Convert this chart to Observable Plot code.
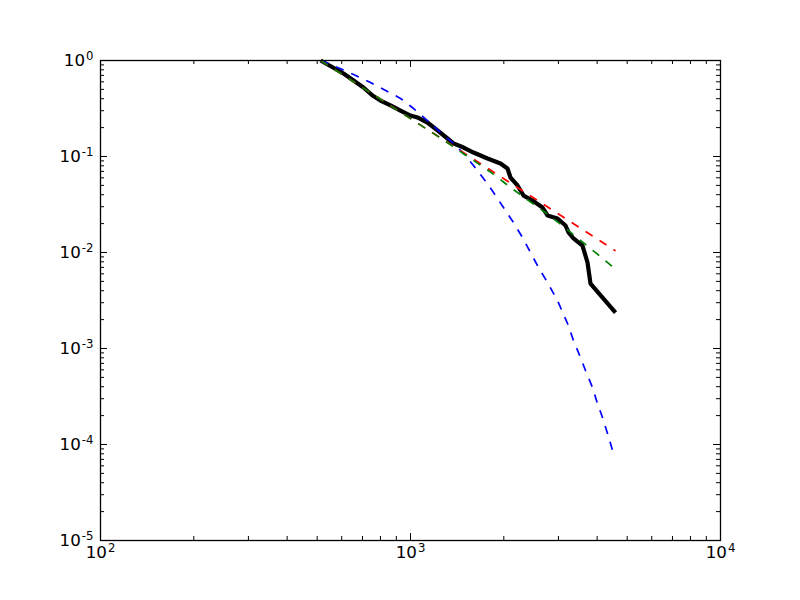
<!DOCTYPE html>
<html><head><meta charset="utf-8">
<script src="https://cdn.jsdelivr.net/npm/d3@7"></script>
<script src="https://cdn.jsdelivr.net/npm/@observablehq/plot@0.6"></script>
<style>body{margin:0;background:#fff;}</style>
</head><body><div id="chart"></div>
<script>
const xMajor = [100, 1000, 10000];
const xTickLabels = ["10^2", "10^3", "10^4"];
const xMinor = [200, 300, 400, 500, 600, 700, 800, 900, 2000, 3000, 4000, 5000, 6000, 7000, 8000, 9000];
const yMajor = [1e-5, 1e-4, 1e-3, 1e-2, 1e-1, 1];
const yTickLabels = ["10^-5", "10^-4", "10^-3", "10^-2", "10^-1", "10^0"];
const yMinor = [
  2e-5, 3e-5, 4e-5, 5e-5, 6e-5, 7e-5, 8e-5, 9e-5,
  2e-4, 3e-4, 4e-4, 5e-4, 6e-4, 7e-4, 8e-4, 9e-4,
  2e-3, 3e-3, 4e-3, 5e-3, 6e-3, 7e-3, 8e-3, 9e-3,
  2e-2, 3e-2, 4e-2, 5e-2, 6e-2, 7e-2, 8e-2, 9e-2,
  0.2, 0.3, 0.4, 0.5, 0.6, 0.7, 0.8, 0.9
];

// empirical CCDF (black)
const empX = [513, 608, 655, 705, 754, 800, 862, 928, 1000, 1053, 1134, 1222, 1316, 1376, 1483, 1597, 1772, 1951, 2055, 2102, 2214, 2315, 2475, 2666, 2766, 2980, 3162, 3234, 3356, 3587, 3724, 3807, 4585];
const empY = [1.0, 0.732, 0.619, 0.523, 0.432, 0.383, 0.340, 0.301, 0.267, 0.255, 0.226, 0.187, 0.154, 0.137, 0.124, 0.110, 0.0953, 0.0845, 0.075, 0.0604, 0.0499, 0.0392, 0.0348, 0.0294, 0.0243, 0.0226, 0.0191, 0.0162, 0.0140, 0.0118, 0.00787, 0.00475, 0.00237];

// exponential fit (blue)
const expX = [513, 582, 655, 743, 843, 929, 1023, 1134, 1249, 1376, 1483, 1597, 1720, 1853, 1995, 2149, 2298, 2438, 2588, 2767, 2980, 3210, 3356, 3535, 3669, 3865, 4011, 4163, 4321, 4516];
const expY = [1.0, 0.846, 0.715, 0.590, 0.476, 0.402, 0.316, 0.237, 0.178, 0.137, 0.1075, 0.0806, 0.0590, 0.0422, 0.0294, 0.0205, 0.0143, 0.0100, 0.0070, 0.00487, 0.00316, 0.00182, 0.00121, 0.000806, 0.000590, 0.000392, 0.000267, 0.000191, 0.000130, 0.0000806];

// power-law fit (red)
const powX = [513, 1000, 2000, 4585];
const powY = [1.0, 0.248, 0.0587, 0.0104];

// truncated power-law fit (green)
const tplX = [513, 800, 1000, 1249, 1483, 1812, 1995, 2264, 2686, 3047, 3669, 4011, 4516, 4585];
const tplY = [1.0, 0.395, 0.248, 0.156, 0.107, 0.069, 0.0542, 0.0399, 0.0269, 0.0197, 0.01215, 0.0096, 0.00698, 0.0067];

const toRows = (xs, ys) => xs.map((x, i) => ({x, y: ys[i]}));
const empirical = toRows(empX, empY);
const exponential = toRows(expX, expY);
const powerlaw = toRows(powX, powY);
const truncated = toRows(tplX, tplY);

const W = 800, H = 600, mL = 100, mR = 80, mT = 60, mB = 60;
const pw = W - mL - mR, ph = H - mT - mB;
const major = 7, minor = 4;
const dash = "8.3,8.3";
const dw = 1.7;

const chart = Plot.plot({
  width: W, height: H,
  marginLeft: mL, marginRight: mR, marginTop: mT, marginBottom: mB,
  style: {fontFamily: "DejaVu Sans", fontSize: "16.7px", background: "white", color: "black"},
  x: {type: "log", domain: [100, 10000], axis: null},
  y: {type: "log", domain: [1e-5, 1], axis: null},
  marks: [
    Plot.line(empirical, {x: "x", y: "y", stroke: "black", strokeWidth: 4.2, strokeLinejoin: "round", strokeLinecap: "butt"}),
    Plot.line(exponential, {x: "x", y: "y", stroke: "#0000ff", strokeWidth: dw, strokeDasharray: dash, strokeLinecap: "butt"}),
    Plot.line(powerlaw, {x: "x", y: "y", stroke: "#ff0000", strokeWidth: dw, strokeDasharray: dash, strokeLinecap: "butt"}),
    Plot.line(truncated, {x: "x", y: "y", stroke: "#008000", strokeWidth: dw, strokeDasharray: dash, strokeLinecap: "butt"}),
    Plot.frame({stroke: "black", strokeWidth: 1.3}),
    // x ticks (inside, bottom and top)
    Plot.tickX(xMajor, {x: d => d, insetTop: ph - major, stroke: "black"}),
    Plot.tickX(xMajor, {x: d => d, insetBottom: ph - major, stroke: "black"}),
    Plot.tickX(xMinor, {x: d => d, insetTop: ph - minor, stroke: "black"}),
    Plot.tickX(xMinor, {x: d => d, insetBottom: ph - minor, stroke: "black"}),
    // y ticks (inside, left and right)
    Plot.tickY(yMajor, {y: d => d, insetRight: pw - major, stroke: "black"}),
    Plot.tickY(yMajor, {y: d => d, insetLeft: pw - major, stroke: "black"}),
    Plot.tickY(yMinor, {y: d => d, insetRight: pw - minor, stroke: "black"}),
    Plot.tickY(yMinor, {y: d => d, insetLeft: pw - minor, stroke: "black"}),
    // tick labels
    Plot.text(xMajor, {x: d => d, frameAnchor: "bottom", dy: 17, text: (d, i) => xTickLabels[i], textAnchor: "middle", fontSize: 16.7, fill: "black"}),
    Plot.text(yMajor, {y: d => d, frameAnchor: "left", dx: -7, text: (d, i) => yTickLabels[i], textAnchor: "end", fontSize: 16.7, fill: "black"})
  ]
});

// render exponents as superscripts
chart.querySelectorAll("text").forEach(t => {
  const m = /^10\^(.+)$/.exec(t.textContent);
  if (m) {
    t.textContent = "10";
    const ts = document.createElementNS("http://www.w3.org/2000/svg", "tspan");
    ts.setAttribute("dy", "-6");
    ts.setAttribute("dx", "1");
    ts.setAttribute("font-size", "11.7");
    ts.textContent = m[1];
    t.appendChild(ts);
  }
});

document.getElementById("chart").appendChild(chart);
</script>
</body></html>
